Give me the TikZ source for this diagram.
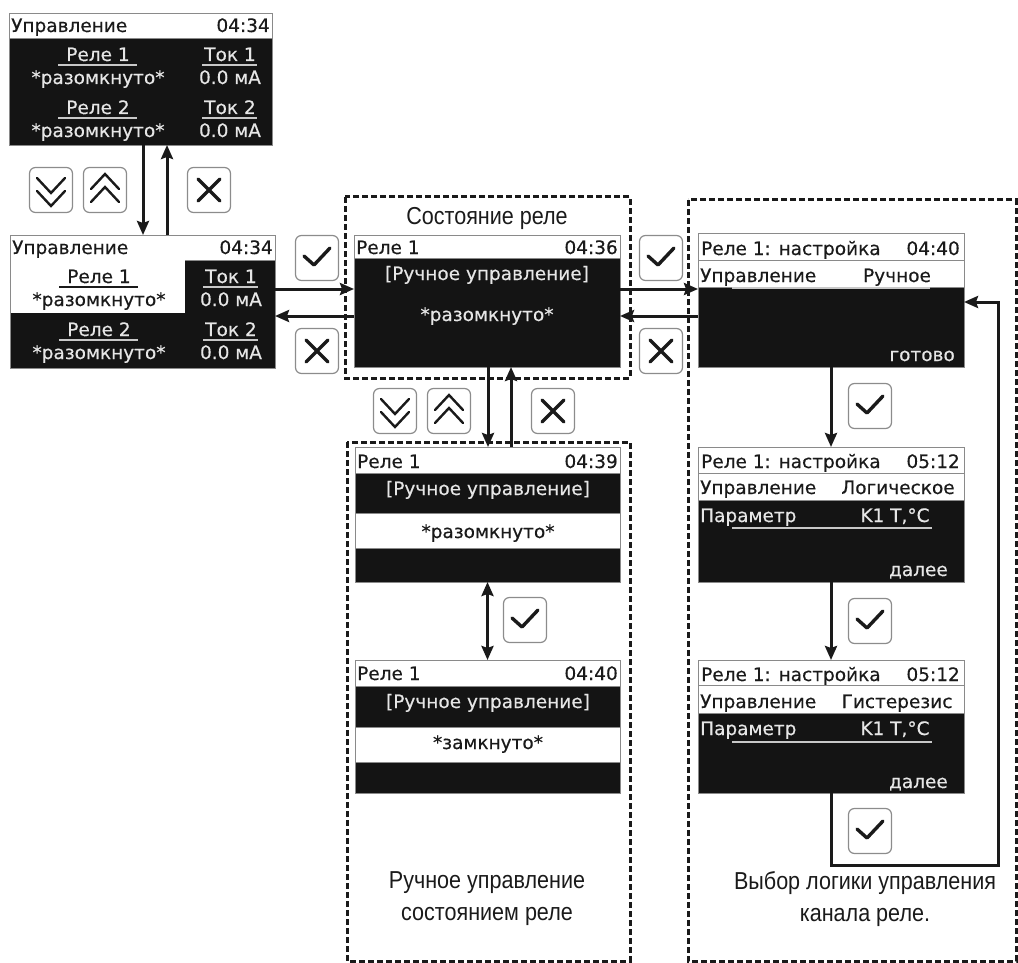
\documentclass[tikz,border=0pt]{standalone}
\usepackage{fontspec}
\usetikzlibrary{arrows.meta,calc,positioning}
\newfontfamily\lcdfont[FakeBold=0.4]{DejaVu Sans}
\newfontfamily\capfont[FakeStretch=0.88]{Liberation Sans}
\definecolor{lcdbg}{HTML}{141414}
\definecolor{lcdedge}{HTML}{8A8A8A}
\definecolor{lcdtext}{HTML}{E6E6E6}
\definecolor{uline}{HTML}{C8C8C8}
\definecolor{keyedge}{HTML}{8C8C8C}
\definecolor{ink}{HTML}{1A1A1A}

\begin{document}
\begin{tikzpicture}[x=1pt,y=-1pt,
  lcd/.style={draw=lcdedge,fill=lcdbg,line width=0.8pt,minimum width=266pt,minimum height=133pt,
    anchor=north west,inner sep=0pt,outer sep=0pt},
  band/.style={fill=white,draw=lcdedge,line width=0.8pt},
  lw/.style={font=\lcdfont\fontsize{18.5}{20}\selectfont,text=lcdtext,inner sep=0pt,anchor=base},
  lb/.style={lw,text=ink},
  ul/.style={draw=uline,line width=1.8pt},
  ulb/.style={draw=ink,line width=1.6pt},
  key/.style={draw=keyedge,fill=white,rounded corners=6pt,line width=1.2pt,
    minimum width=43pt,minimum height=45pt,inner sep=0pt},
  sym/.style={draw=ink,line width=3.4pt,line cap=round,line join=round},
  chev/.style={draw=ink,line width=2.4pt,line cap=round},
  okmark/.pic={\draw[sym] (-13,-2) -- (-3,7) -- (13,-10);},
  xmark/.pic={\draw[sym] (-11,-11) -- (11,11) (-11,11) -- (11,-11);},
  dnmark/.pic={\draw[chev] (-14,-12) -- (0,3) -- (14,-12) (-14,1) -- (0,16) -- (14,1);},
  upmark/.pic={\draw[chev] (-14,12) -- (0,-3) -- (14,12) (-14,-1) -- (0,-16) -- (14,-1);},
  arr/.style={draw=ink,line width=3pt,-{Stealth[length=14pt,width=12pt,inset=2pt]}},
  arr2/.style={arr,{Stealth[length=14pt,width=12pt,inset=2pt]}-{Stealth[length=14pt,width=12pt,inset=2pt]}},
  zone/.style={draw=ink,line width=3pt,dash pattern=on 6pt off 3pt},
  capt/.style={font=\capfont\fontsize{24.5}{32}\selectfont,text=ink,inner sep=0pt}]
\useasboundingbox (0,0) rectangle (1018,963);
%
% groups
\draw[zone] (345,197) rectangle (630,378);
\draw[zone] (347,442) rectangle (630,961);
\draw[zone] (688,200) rectangle (1016,961);
\node[capt,anchor=base] (cap1) at (487,225) {Состояние реле};
\node[capt,align=center] (cap2) at (487,899) {Ручное управление\\состоянием реле};
\node[capt,align=center] (cap3) at (865,899) {Выбор логики управления\\канала реле.};
%
% main screen
\begin{scope}[shift={(9,13)}]
\node[lcd,minimum width=263pt,minimum height=132pt] (s1) at (0,0) {};
\draw[band] (0,0) rectangle (263,25);
\node[lb,anchor=base west] (s1h) at (2,19) {Управление};
\node[lb,anchor=base east] (s1t) at (261,19) {04:34};
\node[lw] (s1a) at (89,48) {Реле 1};
\node[lw] (s1b) at (221,48) {Ток 1};
\node[lw] (s1c) at (89,71) {*разомкнуто*};
\node[lw] (s1d) at (221,71) {0.0 мА};
\node[lw] (s1e) at (89,101) {Реле 2};
\node[lw] (s1f) at (221,101) {Ток 2};
\node[lw] (s1g) at (89,124) {*разомкнуто*};
\node[lw] (s1k) at (221,124) {0.0 мА};
\draw[ul] (49,52) -- (128,52) (193,52) -- (248,52) (49,105) -- (128,105) (193,105) -- (248,105);
\end{scope}
%
\begin{scope}[shift={(10,235)}]
\node[lcd,minimum width=265pt] (s2) at (0,0) {};
\draw[band] (0,0) rectangle (265,25);
\fill[white] (0.5,25) rectangle (175,78);
\node[lb,anchor=base west] (s2h) at (2,19) {Управление};
\node[lb,anchor=base east] (s2t) at (263,19) {04:34};
\node[lb] (s2a) at (89,48) {Реле 1};
\node[lw] (s2b) at (221,48) {Ток 1};
\node[lb] (s2c) at (89,71) {*разомкнуто*};
\node[lw] (s2d) at (221,71) {0.0 мА};
\node[lw] (s2e) at (89,101) {Реле 2};
\node[lw] (s2f) at (221,101) {Ток 2};
\node[lw] (s2g) at (89,124) {*разомкнуто*};
\node[lw] (s2k) at (221,124) {0.0 мА};
\draw[ulb] (49,52) -- (128,52);
\draw[ul] (193,52) -- (248,52) (49,105) -- (128,105) (193,105) -- (248,105);
\end{scope}
%
% relay state
\begin{scope}[shift={(354,235)}]
\node[lcd,minimum height=132pt] (s3) at (0,0) {};
\draw[band] (0,0) rectangle (266,23);
\node[lb,anchor=base west] (s3h) at (2,19) {Реле 1};
\node[lb,anchor=base east] (s3t) at (264,19) {04:36};
\node[lw] (s3a) at (133,45) {[Ручное управление]};
\node[lw] (s3b) at (133,86) {*разомкнуто*};
\end{scope}
%
\begin{scope}[shift={(355,447)}]
\node[lcd,minimum width=265pt,minimum height=135pt] (s7) at (0,0) {};
\draw[band] (0,0) rectangle (265,26);
\draw[band] (0,66) rectangle (265,101);
\node[lb,anchor=base west] (s7h) at (2,21) {Реле 1};
\node[lb,anchor=base east] (s7t) at (263,21) {04:39};
\node[lw] (s7a) at (133,48) {[Ручное управление]};
\node[lb] (s7b) at (133,91) {*разомкнуто*};
\end{scope}
%
\begin{scope}[shift={(355,660)}]
\node[lcd,minimum width=265pt] (s8) at (0,0) {};
\draw[band] (0,0) rectangle (265,26);
\draw[band] (0,67) rectangle (265,102);
\node[lb,anchor=base west] (s8h) at (2,20) {Реле 1};
\node[lb,anchor=base east] (s8t) at (263,20) {04:40};
\node[lw] (s8a) at (133,48) {[Ручное управление]};
\node[lb] (s8b) at (133,89) {*замкнуто*};
\end{scope}
%
% relay setup
\begin{scope}[shift={(698,233)}]
\node[lcd,minimum height=134pt] (s4) at (0,0) {};
\draw[band] (0,0) rectangle (266,27);
\draw[band] (0,27) rectangle (266,54);
\node[lb,anchor=base west] (s4h) at (3,22) {Реле 1: настройка};
\node[lb,anchor=base east] (s4t) at (262,22) {04:40};
\node[lb,anchor=base west] (s4a) at (2,49) {Управление};
\node[lb] (s4b) at (199,49) {Ручное};
\draw[ul] (34,55) -- (232,55);
\node[lw,anchor=base east] (s4c) at (257,128) {готово};
\end{scope}
%
\begin{scope}[shift={(698,447)}]
\node[lcd,minimum height=135pt] (s5) at (0,0) {};
\draw[band] (0,0) rectangle (266,26);
\draw[band] (0,26) rectangle (266,53);
\node[lb,anchor=base west] (s5h) at (3,21) {Реле 1: настройка};
\node[lb,anchor=base east] (s5t) at (262,21) {05:12};
\node[lb,anchor=base west] (s5a) at (2,47) {Управление};
\node[lb] (s5b) at (200,47) {Логическое};
\node[lw,anchor=base west] (s5c) at (2,75) {Параметр};
\node[lw] (s5d) at (197,75) {K1 T,°C};
\draw[ul] (34,81) -- (234,81);
\node[lw,anchor=base east] (s5e) at (250,129) {далее};
\end{scope}
%
\begin{scope}[shift={(698,660)}]
\node[lcd] (s6) at (0,0) {};
\draw[band] (0,0) rectangle (266,25);
\draw[band] (0,25) rectangle (266,53);
\node[lb,anchor=base west] (s6h) at (3,21) {Реле 1: настройка};
\node[lb,anchor=base east] (s6t) at (262,21) {05:12};
\node[lb,anchor=base west] (s6a) at (2,48) {Управление};
\node[lb] (s6b) at (199,48) {Гистерезис};
\node[lw,anchor=base west] (s6c) at (2,75) {Параметр};
\node[lw] (s6d) at (197,75) {K1 T,°C};
\draw[ul] (34,82) -- (234,82);
\node[lw,anchor=base east] (s6e) at (250,128) {далее};
\end{scope}
%
% keys
\node[key] (k1) at (51,190) {};   \pic at (k1) {dnmark};
\node[key] (k2) at (105,190) {};  \pic at (k2) {upmark};
\node[key] (k3) at (209,190) {};  \pic at (k3) {xmark};
\node[key] (k4) at (317,258) {};  \pic at (k4) {okmark};
\node[key] (k5) at (317,351) {};  \pic at (k5) {xmark};
\node[key] (k6) at (661,258) {};  \pic at (k6) {okmark};
\node[key] (k7) at (661,351) {};  \pic at (k7) {xmark};
\node[key] (k8) at (395,411) {};  \pic at (k8) {dnmark};
\node[key] (k9) at (449,411) {};  \pic at (k9) {upmark};
\node[key] (k10) at (553,411) {}; \pic at (k10) {xmark};
\node[key] (k11) at (525,620) {}; \pic at (k11) {okmark};
\node[key] (k12) at (870,406) {}; \pic at (k12) {okmark};
\node[key] (k13) at (870,621) {}; \pic at (k13) {okmark};
\node[key] (k14) at (870,831) {}; \pic at (k14) {okmark};
%
% transitions
\draw[arr] ([xshift=2.5pt]s1.south) -- ([xshift=2.5pt]s1.south |- s2.north);
\draw[arr] ([xshift=26.5pt]s1.south |- s2.north) -- ([xshift=26.5pt]s1.south);
\draw[arr] ([yshift=12.5pt]s2.east) -- ([yshift=12.5pt]s2.east -| s3.west);
\draw[arr] ([yshift=-14.5pt]s2.east -| s3.west) -- ([yshift=-14.5pt]s2.east);
\draw[arr] ([yshift=12pt]s3.east) -- ([yshift=12pt]s3.east -| s4.west);
\draw[arr] ([yshift=-15pt]s3.east -| s4.west) -- ([yshift=-15pt]s3.east);
\draw[arr] ([xshift=1pt]s3.south) -- ([xshift=1pt]s3.south |- s7.north);
\draw[arr] ([xshift=24pt]s3.south |- s7.north) -- ([xshift=24pt]s3.south);
\draw[arr2] (s7.south) -- (s8.north);
\draw[arr] (s4.south) -- (s5.north);
\draw[arr] (s5.south) -- (s6.north);
\coordinate (back) at (998,865);
\draw[arr] (s6.south) |- (back) |- ([yshift=-2pt]s4.east);
\end{tikzpicture}
\end{document}
